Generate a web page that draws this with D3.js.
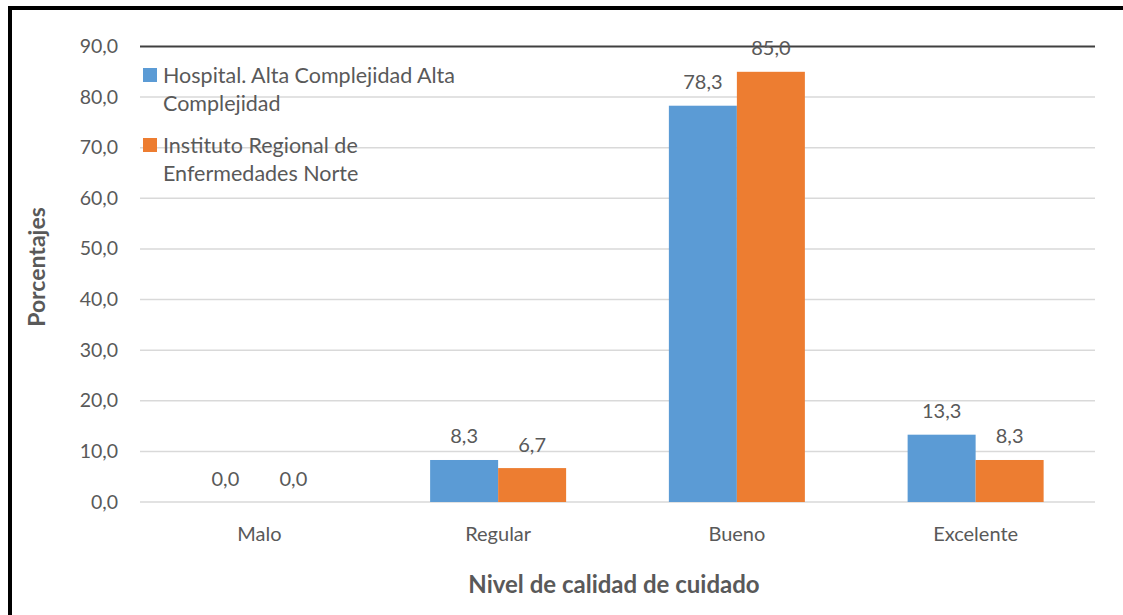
<!DOCTYPE html>
<html>
<head>
<meta charset="utf-8">
<script src="https://cdn.jsdelivr.net/npm/d3@7"></script>
<style>
  body { margin: 0; background: #fff; }
  svg text { font-family: Lato, "Open Sans", sans-serif; fill: #595959; }
</style>
</head>
<body>
<div id="chart"></div>
<script>
'use strict';
var categories = ['Malo', 'Regular', 'Bueno', 'Excelente'];
var seriesNames = [
  ['Hospital. Alta Complejidad Alta', 'Complejidad'],
  ['Instituto Regional de', 'Enfermedades Norte']
];
var hospital = [0.0, 8.3, 78.3, 13.3];
var instituto = [0.0, 6.7, 85.0, 8.3];
var yTicks = [0, 10, 20, 30, 40, 50, 60, 70, 80, 90];
var colors = ['#5B9BD5', '#ED7D31'];

var width = 1123;
var height = 615;
var plotLeft = 140, plotRight = 1095, plotTop = 46.5, plotBottom = 502;

var svg = d3.select('#chart')
  .append('svg')
  .attr('width', width)
  .attr('height', height);

/* outer frame (only top and left visible) */
svg.append('rect')
  .attr('x', 10).attr('y', 8)
  .attr('width', width + 20).attr('height', height + 20)
  .attr('fill', 'none')
  .attr('stroke', '#000')
  .attr('stroke-width', 4);

var y = d3.scaleLinear().domain([0, 90]).range([plotBottom, plotTop]);
var x = d3.scaleBand().domain(categories).range([plotLeft, plotRight]);
var inner = d3.scaleBand().domain([0, 1]).range([0, 136]);

/* gridlines */
svg.selectAll('.grid')
  .data(yTicks)
  .enter()
  .append('line')
  .attr('x1', plotLeft).attr('x2', plotRight)
  .attr('y1', function(d) { return y(d); })
  .attr('y2', function(d) { return y(d); })
  .attr('stroke', function(d) { return d === 90 ? '#404040' : '#D9D9D9'; })
  .attr('stroke-width', function(d) { return d === 90 ? 2 : 1.5; });

/* y labels */
svg.selectAll('.ylab')
  .data(yTicks)
  .enter()
  .append('text')
  .attr('x', 118)
  .attr('y', function(d) { return y(d) + 6.5; })
  .attr('text-anchor', 'end')
  .style('font-size', '19.5px')
  .text(function(d) { return d.toFixed(1).replace('.', ','); });

/* bars */
var data = [hospital, instituto];
var offset = (x.bandwidth() - 136) / 2;
data.forEach(function(vals, s) {
  svg.selectAll('.bar' + s)
    .data(vals)
    .enter()
    .append('rect')
    .attr('x', function(d, i) { return x(categories[i]) + offset + inner(s); })
    .attr('y', function(d) { return y(d); })
    .attr('width', inner.bandwidth())
    .attr('height', function(d) { return plotBottom - y(d); })
    .attr('fill', colors[s]);

  svg.selectAll('.val' + s)
    .data(vals)
    .enter()
    .append('text')
    .attr('x', function(d, i) { return x(categories[i]) + offset + inner(s) + inner.bandwidth() / 2; })
    .attr('y', function(d) { return y(d) - 16.5; })
    .attr('text-anchor', 'middle')
    .style('font-size', '20px')
    .text(function(d) { return d.toFixed(1).replace('.', ','); });
});

/* category labels */
svg.selectAll('.xlab')
  .data(categories)
  .enter()
  .append('text')
  .attr('x', function(d) { return x(d) + x.bandwidth() / 2; })
  .attr('y', 541)
  .attr('text-anchor', 'middle')
  .style('font-size', '20px')
  .text(function(d) { return d; });

/* axis titles */
svg.append('text')
  .attr('transform', 'translate(45,267) rotate(-90)')
  .attr('text-anchor', 'middle')
  .style('font-size', '23px')
  .style('font-weight', 'bold')
  .text('Porcentajes');

svg.append('text')
  .attr('x', 614).attr('y', 593)
  .attr('text-anchor', 'middle')
  .style('font-size', '24px')
  .style('font-weight', 'bold')
  .text('Nivel de calidad de cuidado');

/* legend */
var legend = svg.selectAll('.legend')
  .data(seriesNames)
  .enter()
  .append('g')
  .attr('transform', function(d, i) { return 'translate(143,' + (68 + i * 70) + ')'; });
legend.append('rect')
  .attr('width', 14).attr('height', 14)
  .attr('fill', function(d, i) { return colors[i]; });
legend.append('text')
  .attr('x', 20)
  .attr('y', 14.5)
  .style('font-size', '21.5px')
  .selectAll('tspan')
  .data(function(d) { return d; })
  .enter()
  .append('tspan')
  .attr('x', 20)
  .attr('dy', function(d, i) { return i === 0 ? 0 : 28.5; })
  .text(function(d) { return d; });
</script>
</body>
</html>
